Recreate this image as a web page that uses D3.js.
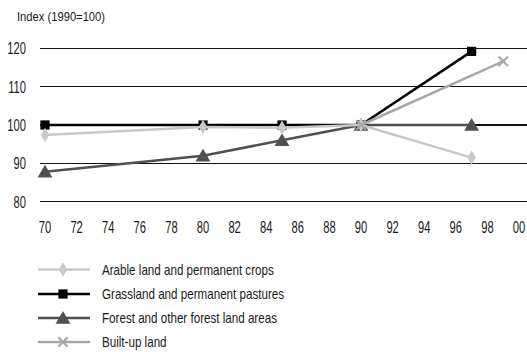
<!DOCTYPE html>
<html><head><meta charset="utf-8">
<script src="https://cdn.jsdelivr.net/npm/d3@7"></script>
<style>
body{margin:0;background:#fff;}
text{font-family:"Liberation Sans",Arial,sans-serif;fill:#1a1a1a;}
</style></head>
<body><svg id="c" width="527" height="352"></svg>
<script>
const arable = [[1970,97.4],[1980,99.5],[1985,99.3],[1990,100],[1997,91.5]];
const grassland = [[1970,100],[1980,100],[1985,100],[1990,100],[1997,119.2]];
const forest = [[1970,87.8],[1980,92],[1985,96],[1990,100],[1997,100]];
const builtUp = [[1990,100],[1999,116.6]];
const yTicks = [80, 90, 100, 110, 120];
const xTicks = [1970,1972,1974,1976,1978,1980,1982,1984,1986,1988,1990,1992,1994,1996,1998,2000];
const seriesNames = ["Arable land and permanent crops","Grassland and permanent pastures","Forest and other forest land areas","Built-up land"];

const svg = d3.select("#c");
const x = d3.scaleLinear().domain([1970, 2000]).range([45, 519]);
const y = d3.scaleLinear().domain([80, 120]).range([201.7, 48.3]);

const tickScale = 0.7, textScale = 0.83;

svg.append("text").attr("transform", `translate(17,21) scale(${textScale},1)`)
  .attr("font-size", 13.5).text("Index (1990=100)");

// gridlines
svg.append("g").selectAll("line").data(yTicks).join("line")
  .attr("x1", 40).attr("x2", 527).attr("y1", d => y(d)).attr("y2", d => y(d))
  .attr("stroke", "#111").attr("stroke-width", 1.2).attr("shape-rendering","crispEdges");
svg.append("g").selectAll("text").data(yTicks).join("text")
  .attr("transform", d => `translate(26,${y(d) + 6}) scale(${tickScale},1)`)
  .attr("text-anchor", "end").attr("font-size", 16)
  .text(d => d);
svg.append("g").selectAll("text").data(xTicks).join("text")
  .attr("transform", d => `translate(${x(d)},233) scale(${tickScale},1)`)
  .attr("text-anchor", "middle").attr("font-size", 16)
  .text(d => String(d).slice(2));

const series = [
  {name: seriesNames[0], data: arable, color: "#c8c8c8", sym: d3.symbolDiamond, size: 60, width: 2.5},
  {name: seriesNames[1], data: grassland, color: "#000", sym: d3.symbolSquare, size: 85, width: 2.5},
  {name: seriesNames[2], data: forest, color: "#505050", sym: d3.symbolTriangle, size: 95, width: 2.5},
  {name: seriesNames[3], data: builtUp, color: "#a8a8a8", sym: d3.symbolX, size: 60, width: 2.5},
];
const line = d3.line().x(d => x(d[0])).y(d => y(d[1]));

function marker(g, s, cx, cy) {
  if (s.sym === d3.symbolX) {
    g.append("path").attr("transform", `translate(${cx},${cy})`)
      .attr("d", d3.symbol().type(d3.symbolX).size(s.size)())
      .attr("fill", "none").attr("stroke", s.color).attr("stroke-width", 2.2);
  } else {
    const dy = s.sym === d3.symbolTriangle ? 1.5 : 0;
    g.append("path").attr("transform", `translate(${cx},${cy + dy})`)
      .attr("d", d3.symbol().type(s.sym).size(s.size)())
      .attr("fill", s.color);
  }
}

const order = [2, 1, 0, 3];
order.forEach(i => {
  const s = series[i];
  const g = svg.append("g");
  g.append("path").datum(s.data).attr("d", line).attr("fill", "none")
    .attr("stroke", s.color).attr("stroke-width", s.width);
  s.data.forEach(d => marker(g, s, x(d[0]), y(d[1])));
});

// legend
const legY = [269.5, 294, 318, 342];
series.forEach((s, i) => {
  const g = svg.append("g");
  g.append("line").attr("x1", 38).attr("x2", 90).attr("y1", legY[i]).attr("y2", legY[i])
    .attr("stroke", s.color).attr("stroke-width", s.width);
  marker(g, s, 63, legY[i]);
  g.append("text").attr("transform", `translate(102,${legY[i] + 5}) scale(${textScale},1)`)
    .attr("font-size", 14).text(s.name);
});
</script></body></html>
